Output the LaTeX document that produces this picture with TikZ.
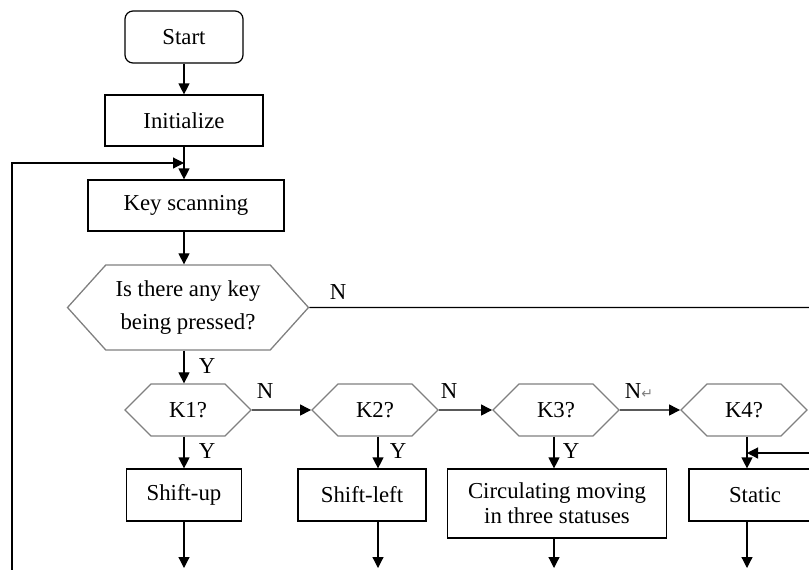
\documentclass[tikz,border=0pt]{standalone}
\usepackage{fontspec}
\setmainfont{Liberation Serif}
\newfontfamily\symfont{DejaVu Sans}
\usetikzlibrary{positioning,shapes.symbols,arrows.meta}

\begin{document}
\begin{tikzpicture}[x=0.5pt,y=-0.5pt,
semithick, >={Triangle[length=5.5pt,width=5.5pt]},
font=\fontsize{11.4}{12.6}\selectfont,
box/.style={rectangle, draw, minimum height=26pt, align=center, inner sep=2pt},
startbox/.style={box, rounded corners=4pt},
ask/.style={signal, signal to=east and west, signal pointer angle=90,
 draw=black!50, line width=0.65pt, align=center, minimum width=63pt, minimum height=26pt, inner sep=1pt},
lbl/.style={inner sep=1pt}]

\useasboundingbox (0,0) rectangle (809,569);
\clip (0,0) rectangle (809,569);

\node[startbox, minimum width=59pt] (start) at (184,37) {Start};
\node[box, minimum width=79pt, minimum height=25.5pt] (init) at (184,120.5) {Initialize};
\node[box, minimum width=98pt, minimum height=25.5pt] (scan) at (186,205.5) {Key scanning};

\node[ask, minimum width=120.5pt, minimum height=42.5pt, signal pointer angle=96,
 font=\fontsize{11.4}{16.5}\selectfont] (anykey) at (188,307.5) {Is there any key\\being pressed?};

\node[ask] (k1) at (188,410) {K1?};
\node[ask] (k2) at (375,410) {K2?};
\node[ask] (k3) at (556,410) {K3?};
\node[ask] (k4) at (744,410) {K4?};

\node[box, minimum width=57.5pt] (up) at (184,495) {Shift-up};
\node[box, minimum width=64pt] (left) at (362,495) {Shift-left};
\node[box, minimum width=109.5pt, minimum height=34.5pt] (circ) at (557,503.5) {Circulating moving\\in three statuses};
\node[box, minimum width=66pt] (static) at (755,495) {Static};

% free ends running off the sheet
\coordinate (back) at (12,600);
\coordinate (join) at (184,163);
\coordinate (nout) at (830,307.5);
\coordinate (back4) at (830,453);
\coordinate (upout) at (184,568);
\coordinate (leftout) at (378,568);
\coordinate (circout) at (554,568);
\coordinate (staticout) at (747,568);

\draw[->] (start) -- (init);
\draw[->] (init) -- (init |- scan.north);
\draw[->] (back) |- (join);
\draw[->] (scan.south -| init) -- (anykey.north -| init);
\draw (anykey) -- (nout);
\draw[->] (anykey.south -| init) -- (k1.north -| init);

\draw[->] (k1) -- (k2);
\draw[->] (k2) -- (k3);
\draw[->] (k3) -- (k4);

\draw[->] (k1.south -| upout) -- (up.north -| upout);
\draw[->] (k2.south -| leftout) -- (left.north -| leftout);
\draw[->] (k3.south -| circout) -- (circ.north -| circout);
\draw[->] (k4.south -| staticout) -- (static.north -| staticout);
\draw[->] (back4) -- (back4 -| staticout);

\draw[->] (up.south -| upout) -- (upout);
\draw[->] (left.south -| leftout) -- (leftout);
\draw[->] (circ.south -| circout) -- (circout);
\draw[->] (static.south -| staticout) -- (staticout);

% branch labels
\node[lbl] (nmain) at (338,292) {N};
\node[lbl] (ymain) at (207,366) {Y};
\node[lbl] (n1) at (265,391) {N};
\node[lbl] (y1) at (207,451) {Y};
\node[lbl] (n2) at (449,391) {N};
\node[lbl] (y2) at (398,451) {Y};
\node[lbl] (n3) at (639,391) {N{\color{black!50}\symfont\scriptsize ↵}};
\node[lbl] (y3) at (571,451) {Y};

\end{tikzpicture}
\end{document}
